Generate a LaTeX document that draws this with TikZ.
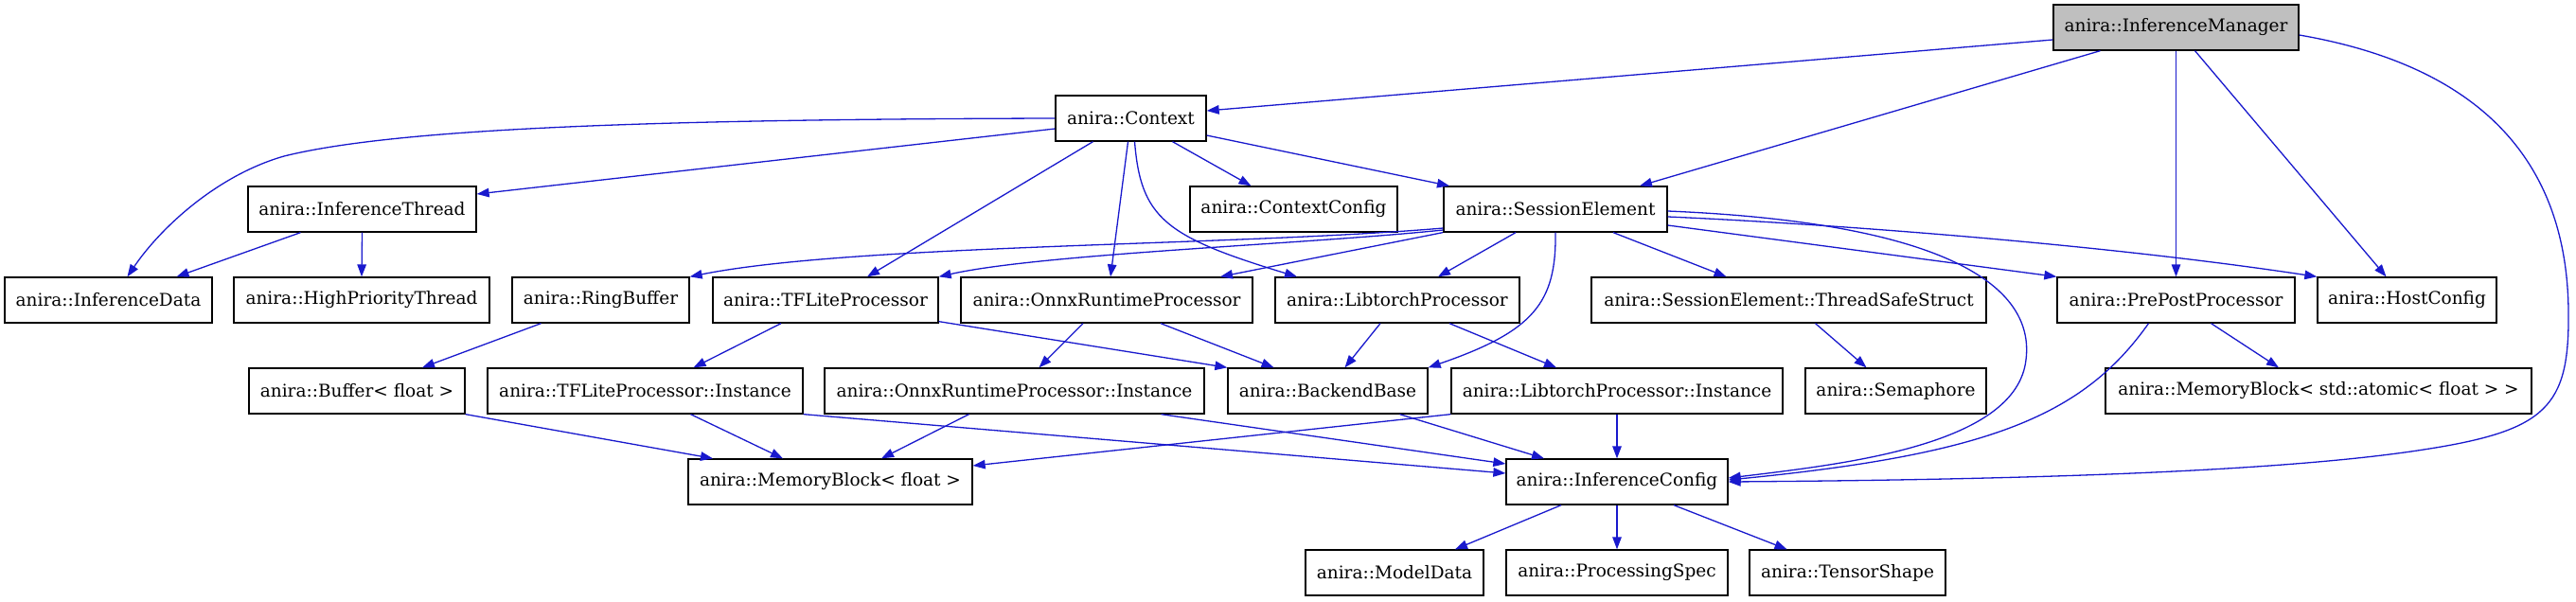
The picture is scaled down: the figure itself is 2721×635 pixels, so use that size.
\documentclass[tikz,border=0pt]{standalone}
\usepackage{fontspec}
\setmainfont{DejaVu Serif}
\usetikzlibrary{arrows.meta}
\definecolor{edgeblue}{RGB}{25,25,205}
\definecolor{mgrgray}{RGB}{191,191,191}

\begin{document}
\begin{tikzpicture}[x=1pt,y=-1pt,
  cls/.style={draw, line width=1.3pt, minimum height=48pt, inner sep=0pt,
    font=\fontsize{18.5}{22}\selectfont},
  dep/.style={draw=edgeblue, line width=1.3pt, -{Triangle[length=13pt,width=9.5pt]}}]

\useasboundingbox (0,0) rectangle (2721,635);

% Top rows
\node[cls, fill=mgrgray, minimum width=259] (mgr) at (2298.5,29) {anira::InferenceManager};
\node[cls, minimum width=159] (ctx) at (1194.5,125) {anira::Context};
\node[cls, minimum width=241] (thread) at (382.5,221) {anira::InferenceThread};
\node[cls, minimum width=219] (ctxcfg) at (1366.5,221) {anira::ContextConfig};
\node[cls, minimum width=236] (sess) at (1643,221) {anira::SessionElement};

% Processors row
\node[cls, minimum width=219] (infdata) at (114.5,317) {anira::InferenceData};
\node[cls, minimum width=270] (hpthread) at (382,317) {anira::HighPriorityThread};
\node[cls, minimum width=187] (ringbuf) at (634.5,317) {anira::RingBuffer};
\node[cls, minimum width=238] (tflite) at (872,317) {anira::TFLiteProcessor};
\node[cls, minimum width=308] (onnx) at (1169,317) {anira::OnnxRuntimeProcessor};
\node[cls, minimum width=258] (torch) at (1476,317) {anira::LibtorchProcessor};
\node[cls, minimum width=417] (tss) at (1889.5,317) {anira::SessionElement::ThreadSafeStruct};
\node[cls, minimum width=251] (prepost) at (2298.5,317) {anira::PrePostProcessor};
\node[cls, minimum width=189] (host) at (2542.5,317) {anira::HostConfig};

% Instances row
\node[cls, minimum width=228] (buffer) at (377,413) {anira::Buffer< float >};
\node[cls, minimum width=333] (tfinst) at (681.5,413) {anira::TFLiteProcessor::Instance};
\node[cls, minimum width=401] (onnxinst) at (1071.5,413) {anira::OnnxRuntimeProcessor::Instance};
\node[cls, minimum width=211] (backend) at (1402.5,413) {anira::BackendBase};
\node[cls, minimum width=350] (torchinst) at (1708,413) {anira::LibtorchProcessor::Instance};
\node[cls, minimum width=191] (sema) at (2002.5,413) {anira::Semaphore};
\node[cls, minimum width=450] (mbatomic) at (2449,413) {anira::MemoryBlock< std::atomic< float > >};

% Bottom rows
\node[cls, minimum width=300] (mbfloat) at (877,509) {anira::MemoryBlock< float >};
\node[cls, minimum width=234] (infcfg) at (1708,509) {anira::InferenceConfig};
\node[cls, minimum width=188] (modeldata) at (1473,605) {anira::ModelData};
\node[cls, minimum width=234] (procspec) at (1708,605) {anira::ProcessingSpec};
\node[cls, minimum width=207] (tshape) at (1951.5,605) {anira::TensorShape};

% InferenceManager
\draw[dep] ([yshift=-13pt]mgr.west) -- ([yshift=8pt]ctx.east);
\draw[dep] ([xshift=-80pt]mgr.south) -- ([xshift=89pt]sess.north);
\draw[dep] (mgr.south) -- (prepost.north);
\draw[dep] ([xshift=20pt]mgr.south) -- ([xshift=-22pt]host.north);
\draw[dep] ([yshift=-8pt]mgr.east) .. controls (2620,70) and (2712,170) .. (2713,330)
  .. controls (2714,430) and (2690,455) .. (2560,475)
  .. controls (2400,500) and (2100,507) .. (infcfg.east);

% Context
\draw[dep] (ctx.west) .. controls (700,126) and (420,135) .. (300,165)
  .. controls (230,185) and (170,240) .. ([xshift=20pt]infdata.north);
\draw[dep] ([yshift=-11pt]ctx.west) -- ([yshift=16pt]thread.east);
\draw[dep] ([xshift=-40pt]ctx.south) -- ([xshift=44pt]tflite.north);
\draw[dep] ([xshift=-3pt]ctx.south) -- ([xshift=4pt]onnx.north);
\draw[dep] ([xshift=4pt]ctx.south) .. controls (1205,230) and (1230,250) .. ([xshift=-106pt]torch.north);
\draw[dep] ([xshift=44pt]ctx.south) -- ([xshift=-45pt]ctxcfg.north);
\draw[dep] ([yshift=-18pt]ctx.east) -- ([xshift=-112pt]sess.north);

% InferenceThread
\draw[dep] ([xshift=-65pt]thread.south) -- ([xshift=72pt]infdata.north);
\draw[dep] (thread.south) -- (hpthread.north);

% SessionElement
\draw[dep] ([yshift=-20pt]sess.west) .. controls (1300,260) and (900,258) .. (ringbuf.north east);
\draw[dep] ([yshift=-22pt]sess.west) .. controls (1380,258) and (1100,268) .. (tflite.north east);
\draw[dep] ([xshift=-119pt]sess.south) -- ([xshift=120pt]onnx.north);
\draw[dep] ([xshift=-42pt]sess.south) -- ([xshift=43pt]torch.north);
\draw[dep] (sess.south) .. controls (1644,320) and (1620,350) .. (backend.north east);
\draw[dep] ([xshift=61pt]sess.south) -- ([xshift=-66pt]tss.north);
\draw[dep] ([yshift=-17pt]sess.east) -- (prepost.north west);
\draw[dep] ([yshift=-8pt]sess.east) .. controls (1900,235) and (2200,255) .. (host.north west);
\draw[dep] ([yshift=-2pt]sess.east) .. controls (2050,235) and (2150,300) .. (2140,380)
  .. controls (2130,470) and (1950,490) .. ([yshift=4pt]infcfg.east);

% Processors
\draw[dep] ([xshift=-63pt]ringbuf.south) -- ([xshift=69pt]buffer.north);
\draw[dep] ([xshift=-47pt]tflite.south) -- ([xshift=51pt]tfinst.north);
\draw[dep] ([yshift=2pt]tflite.south east) -- (backend.north west);
\draw[dep] ([xshift=-25pt]onnx.south) -- ([xshift=26pt]onnxinst.north);
\draw[dep] ([xshift=57pt]onnx.south) -- ([xshift=-57pt]backend.north);
\draw[dep] ([xshift=-18pt]torch.south) -- ([xshift=18pt]backend.north);
\draw[dep] ([xshift=55pt]torch.south) -- ([xshift=-64pt]torchinst.north);
\draw[dep] ([xshift=28pt]tss.south) -- ([xshift=-31pt]sema.north);
\draw[dep] ([xshift=37pt]prepost.south) -- ([xshift=-42pt]mbatomic.north);
\draw[dep] ([xshift=-29pt]prepost.south) .. controls (2200,440) and (2100,480) .. ([yshift=2pt]infcfg.east);

% Instances
\draw[dep] (buffer.south east) -- ([xshift=-124pt]mbfloat.north);
\draw[dep] ([xshift=48pt]tfinst.south) -- ([xshift=-50pt]mbfloat.north);
\draw[dep] (tfinst.south east) -- ([yshift=9pt]infcfg.west);
\draw[dep] ([xshift=-48pt]onnxinst.south) -- ([xshift=54pt]mbfloat.north);
\draw[dep] ([xshift=155pt]onnxinst.south) -- ([yshift=19pt]infcfg.west);
\draw[dep] ([xshift=76pt]backend.south) -- ([xshift=-77pt]infcfg.north);
\draw[dep] (torchinst.south west) -- ([yshift=17pt]mbfloat.east);
\draw[dep] (torchinst.south) -- (infcfg.north);

% InferenceConfig
\draw[dep] ([xshift=-59pt]infcfg.south) -- ([xshift=64pt]modeldata.north);
\draw[dep] (infcfg.south) -- (procspec.north);
\draw[dep] ([xshift=60pt]infcfg.south) -- ([xshift=-64pt]tshape.north);

\end{tikzpicture}
\end{document}
